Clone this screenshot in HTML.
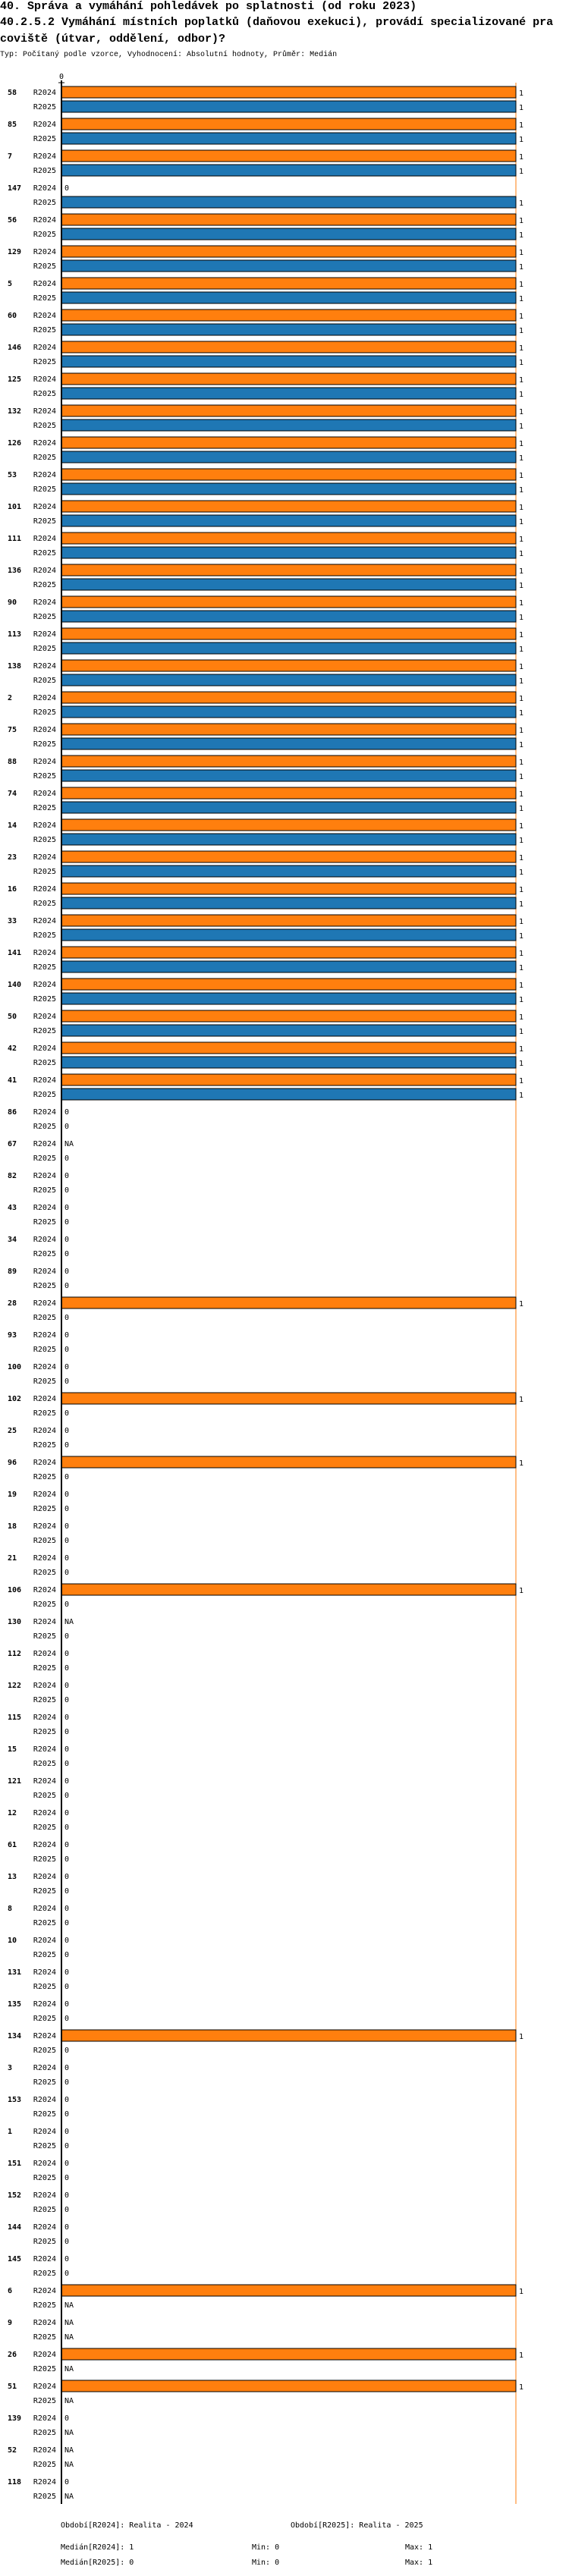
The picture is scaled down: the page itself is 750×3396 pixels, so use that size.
<!DOCTYPE html>
<html><head><meta charset="utf-8">
<style>
body{margin:0;background:#fff;width:750px;height:3396px;overflow:hidden}
.t{position:absolute;left:0;font-family:"Liberation Mono","DejaVu Sans Mono",monospace;font-size:15px;font-weight:bold;white-space:nowrap;color:#000}
.s{position:absolute;left:0;top:67px;font-family:"Liberation Mono",monospace;font-size:10px;color:#000}
svg{position:absolute;left:0;top:0}
svg text{font-family:"DejaVu Sans Mono","Liberation Mono",monospace;font-size:10px}
</style></head><body>
<div class="t" style="top:0px">40. Správa a vymáhání pohledávek po splatnosti (od roku 2023)</div>
<div class="t" style="top:21px">40.2.5.2 Vymáhání místních poplatků (daňovou exekuci), provádí specializované pra</div>
<div class="t" style="top:43px">coviště (útvar, oddělení, odbor)?</div>
<div class="s">Typ: Počítaný podle vzorce, Vyhodnocení: Absolutní hodnoty, Průměr: Medián</div>
<svg id="c" width="750" height="3396"></svg>
<script>
const categories=["58","85","7","147","56","129","5","60","146","125","132","126","53","101","111","136","90","113","138","2","75","88","74","14","23","16","33","141","140","50","42","41","86","67","82","43","34","89","28","93","100","102","25","96","19","18","21","106","130","112","122","115","15","121","12","61","13","8","10","131","135","134","3","153","1","151","152","144","145","6","9","26","51","139","52","118"];
const values2024=[1,1,1,0,1,1,1,1,1,1,1,1,1,1,1,1,1,1,1,1,1,1,1,1,1,1,1,1,1,1,1,1,0,null,0,0,0,0,1,0,0,1,0,1,0,0,0,1,null,0,0,0,0,0,0,0,0,0,0,0,0,1,0,0,0,0,0,0,0,1,null,1,1,0,null,0];
const values2025=[1,1,1,1,1,1,1,1,1,1,1,1,1,1,1,1,1,1,1,1,1,1,1,1,1,1,1,1,1,1,1,1,0,0,0,0,0,0,0,0,0,0,0,0,0,0,0,0,0,0,0,0,0,0,0,0,0,0,0,0,0,0,0,0,0,0,0,0,0,null,null,null,null,null,null,null];
const seriesNames=["R2024","R2025"];
const axisTicks=[0];
const svg=document.getElementById('c');const NS='http://www.w3.org/2000/svg';
const X0=81,X1=680,top0=109,pitch=42;
const xs=v=>X0+(X1-X0)*v;
const yg=i=>top0+i*pitch;
function mk(tag,a,txt){const e=document.createElementNS(NS,tag);for(const k in a)e.setAttribute(k,a[k]);if(txt!=null)e.textContent=txt;svg.appendChild(e);return e;}
const bottom=top0+categories.length*pitch;
let l=mk('line',{x1:X1,y1:top0,x2:X1,y2:bottom,stroke:'#ff7f0e','stroke-width':1});


const cols=['#ff7f0e','#1f77b4'];
categories.forEach((c,i)=>{
  const g=yg(i);
  let t=mk('text',{x:10,y:g+16,'font-weight':'bold','font-size':'11'},c);
  
  
  [values2024,values2025].forEach((arr,s)=>{
    const v=arr[i];const by=g+5+s*19;
    let lb=mk('text',{x:74,y:by+11,'text-anchor':'end'},seriesNames[s]);
    
    
    if(v!==null&&v>0){
      let r=mk('rect',{x:X0,y:by,width:xs(v)-X0,height:15,fill:cols[s],stroke:'#000','stroke-width':1});
      
      
      let vt=mk('text',{x:xs(v)+4,y:by+12},String(v));
      
      
    }else{
      let vt=mk('text',{x:X0+4,y:by+11},v===null?'NA':String(v));
      
      
    }
  });
});
let ax=mk('line',{x1:X0,y1:top0-3,x2:X0,y2:bottom,stroke:'#000','stroke-width':2});


let tk=mk('line',{x1:X0-4,y1:top0,x2:X0+4,y2:top0,stroke:'#000','stroke-width':1});


axisTicks.forEach(v=>{let t=mk('text',{x:xs(v),y:top0-5,'text-anchor':'middle','font-size':'9'},String(v));

});
const foot=[[80,3332,'Období[R2024]: Realita - 2024'],[383,3332,'Období[R2025]: Realita - 2025'],[80,3361,'Medián[R2024]: 1'],[332,3361,'Min: 0'],[534,3361,'Max: 1'],[80,3381,'Medián[R2025]: 0'],[332,3381,'Min: 0'],[534,3381,'Max: 1']];
foot.forEach(f=>{let t=mk('text',{x:f[0],y:f[1]},f[2]);

});
</script>
</body></html>
